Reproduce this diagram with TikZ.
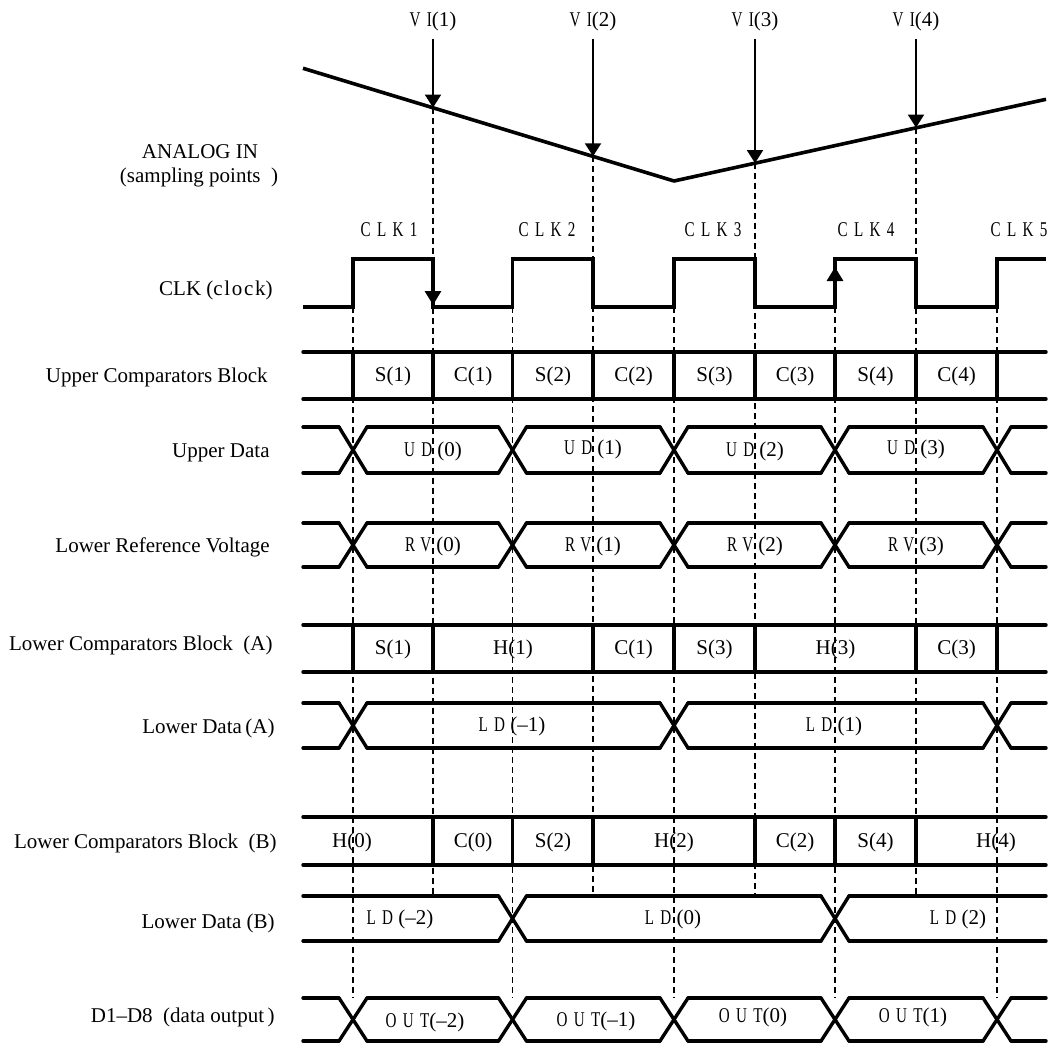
\documentclass[tikz,border=0pt]{standalone}
\usepackage{fontspec}
\setmainfont{Liberation Serif}
\newfontfamily\nf[FakeStretch=0.72,LetterSpace=30]{Liberation Serif}
\usetikzlibrary{arrows.meta}
\newcommand\tdrow[3]{%
  \foreach \l/\r in {#3} {%
    \draw[sig] ({\l+14},#1) -- ({\r-14},#1);
    \draw[sig] ({\l+14},#2) -- ({\r-14},#2);
  }}
\newcommand\tdcross[3]{%
  \foreach \c in {#3} {%
    \draw[sig] ({\c-14},#1) -- ({\c+14},#2);
    \draw[sig] ({\c-14},#2) -- ({\c+14},#1);
  }}
\begin{document}
\begin{tikzpicture}[x=0.5pt,y=-0.5pt,
  sig/.style={line width=1.7pt,line cap=round,line join=round},
  guide/.style={line width=0.8pt,dash pattern=on 3pt off 2pt},
  viarrow/.style={line width=1pt,-{Triangle[length=6.5pt,width=8pt]}},
  clkarrow/.style={line width=1.5pt,-{Triangle[length=7pt,width=8pt]}},
  lbl/.style={font=\fontsize{10.5}{12.6}\selectfont,inner sep=0pt},
  rowlbl/.style={lbl,anchor=east},
]
\useasboundingbox (0,0) rectangle (1048,1043);

% analog input sample points
\coordinate (p1) at (433,107.6);
\coordinate (p2) at (593,156.3);
\coordinate (p3) at (755,163.1);
\coordinate (p4) at (916,127.6);
\coordinate (amin) at (674,181);

% dashed guide lines
\foreach \x in {353,512.5,674,835,997}
  \draw[guide] (\x,307) -- (\x,998);
\draw[guide] (p1) -- (433,896);
\draw[guide] (p2) -- (593,896);
\draw[guide] (p3) -- (755,896);
\draw[guide] (p4) -- (916,896);

% analog waveform
\draw[line width=1.8pt,line join=round] (303,68.3) -- (amin) -- (1046,99.3);

% VI labels and arrows
\node[lbl] (vi1) at (433,21) {{\nf VI}(1)};
\node[lbl] (vi2) at (593,21) {{\nf VI}(2)};
\node[lbl] (vi3) at (755,21) {{\nf VI}(3)};
\node[lbl] (vi4) at (916,21) {{\nf VI}(4)};
\draw[viarrow,shorten <=4pt] (vi1.south) -- (p1);
\draw[viarrow,shorten <=4pt] (vi2.south) -- (p2);
\draw[viarrow,shorten <=4pt] (vi3.south) -- (p3);
\draw[viarrow,shorten <=4pt] (vi4.south) -- (p4);

% left labels
\node[lbl] (ain) at (200,152) {ANALOG IN};
\node[lbl] (asp) at (199,177) {(sampling points\ \ )};
\node[rowlbl] (lclk) at (273,290) {CLK ({\addfontfeatures{LetterSpace=8}clock})};
\node[rowlbl] (lucb) at (268,377) {Upper Comparators Block};
\node[rowlbl] (lud) at (270,453) {Upper Data};
\node[rowlbl] (lrv) at (270,547) {Lower Reference Voltage};
\node[rowlbl] (llca) at (273,645) {Lower Comparators Block\ \ (A)};
\node[rowlbl] (llda) at (275,728) {Lower Data\,(A)};
\node[rowlbl] (llcb) at (277,843) {Lower Comparators Block\ \ (B)};
\node[rowlbl] (lldb) at (275,923) {Lower Data (B)};
\node[rowlbl] (ldo) at (275,1017) {D1--D8\ \ (data output\,)};

% clock labels
\node[lbl] (c1) at (389,230) {\nf CLK1};
\node[lbl] (c2) at (547,230) {\nf CLK2};
\node[lbl] (c3) at (713,230) {\nf CLK3};
\node[lbl] (c4) at (866,230) {\nf CLK4};
\node[lbl] (c5) at (1019,230) {\nf CLK5};

% clock waveform
\draw[sig,line cap=butt,line join=miter] (303,307) -- (353,307) -- (353,259) -- (433,259) -- (433,307)
  -- (512.5,307) -- (512.5,259) -- (593,259) -- (593,307) -- (674,307) -- (674,259)
  -- (755,259) -- (755,307) -- (835,307) -- (835,259) -- (916,259) -- (916,307)
  -- (997,307) -- (997,259) -- (1046,259);
\draw[clkarrow] (433,282) -- (433,305);
\draw[clkarrow] (835,298) -- (835,267);

% Upper comparators block
\draw[sig] (303,352) -- (1046,352);
\draw[sig] (303,399) -- (1046,399);
\foreach \x in {353,433,512.5,593,674,755,835,916,997}
  \draw[sig] (\x,352) -- (\x,399);
\node[lbl] (u1) at (393,376) {S(1)};
\node[lbl] (u2) at (473,376) {C(1)};
\node[lbl] (u3) at (553,376) {S(2)};
\node[lbl] (u4) at (633.5,376) {C(2)};
\node[lbl] (u5) at (714.5,376) {S(3)};
\node[lbl] (u6) at (795,376) {C(3)};
\node[lbl] (u7) at (875.5,376) {S(4)};
\node[lbl] (u8) at (956.5,376) {C(4)};

% Upper data
\tdrow{427}{473}{289/353,353/512.5,512.5/674,674/835,835/997,997/1060}
\tdcross{427}{473}{353,512.5,674,835,997}
\node[lbl] (ud0) at (433,451) {{\nf UD} (0)};
\node[lbl] (ud1) at (593,449) {{\nf UD} (1)};
\node[lbl] (ud2) at (755,451) {{\nf UD} (2)};
\node[lbl] (ud3) at (916,449) {{\nf UD} (3)};

% Lower reference voltage
\tdrow{523}{567}{289/353,353/512.5,512.5/674,674/835,835/997,997/1060}
\tdcross{523}{567}{353,512.5,674,835,997}
\node[lbl] (rv0) at (433,546) {{\nf RV} (0)};
\node[lbl] (rv1) at (593,546) {{\nf RV} (1)};
\node[lbl] (rv2) at (755,546) {{\nf RV} (2)};
\node[lbl] (rv3) at (916,546) {{\nf RV} (3)};

% Lower comparators block (A)
\draw[sig] (303,625) -- (1046,625);
\draw[sig] (303,672) -- (1046,672);
\foreach \x in {353,433,593,674,755,916,997}
  \draw[sig] (\x,625) -- (\x,672);
\node[lbl] (a1) at (393,649) {S(1)};
\node[lbl] (a2) at (513,649) {H(1)};
\node[lbl] (a3) at (633.5,649) {C(1)};
\node[lbl] (a4) at (714.5,649) {S(3)};
\node[lbl] (a5) at (835.5,649) {H(3)};
\node[lbl] (a6) at (956.5,649) {C(3)};

% Lower data (A)
\tdrow{703}{748}{289/353,353/674,674/997,997/1060}
\tdcross{703}{748}{353,674,997}
\node[lbl] (lda1) at (512,726) {{\nf LD} (--1)};
\node[lbl] (lda2) at (834,726) {{\nf LD} (1)};

% Lower comparators block (B)
\draw[sig] (303,817) -- (1046,817);
\draw[sig] (303,865) -- (1046,865);
\foreach \x in {433,512.5,593,755,835,916}
  \draw[sig] (\x,817) -- (\x,865);
\node[lbl] (b1) at (352,842) {H(0)};
\node[lbl] (b2) at (473,842) {C(0)};
\node[lbl] (b3) at (553,842) {S(2)};
\node[lbl] (b4) at (674,842) {H(2)};
\node[lbl] (b5) at (795,842) {C(2)};
\node[lbl] (b6) at (875.5,842) {S(4)};
\node[lbl] (b7) at (996,842) {H(4)};

% Lower data (B)
\tdrow{896}{941}{289/512.5,512.5/835,835/1060}
\tdcross{896}{941}{512.5,835}
\node[lbl] (ldb1) at (400,919) {{\nf LD} (--2)};
\node[lbl] (ldb2) at (673,919) {{\nf LD} (0)};
\node[lbl] (ldb3) at (958,919) {{\nf LD} (2)};

% Data output
\tdrow{998}{1041}{289/353,353/512.5,512.5/674,674/835,835/997,997/1060}
\tdcross{998}{1041}{353,512.5,674,835,997}
\node[lbl] (o1) at (425,1022) {{\nf OUT}(--2)};
\node[lbl] (o2) at (596,1021) {{\nf OUT}(--1)};
\node[lbl] (o3) at (753,1017) {{\nf OUT}(0)};
\node[lbl] (o4) at (913,1017) {{\nf OUT}(1)};
\end{tikzpicture}
\end{document}
